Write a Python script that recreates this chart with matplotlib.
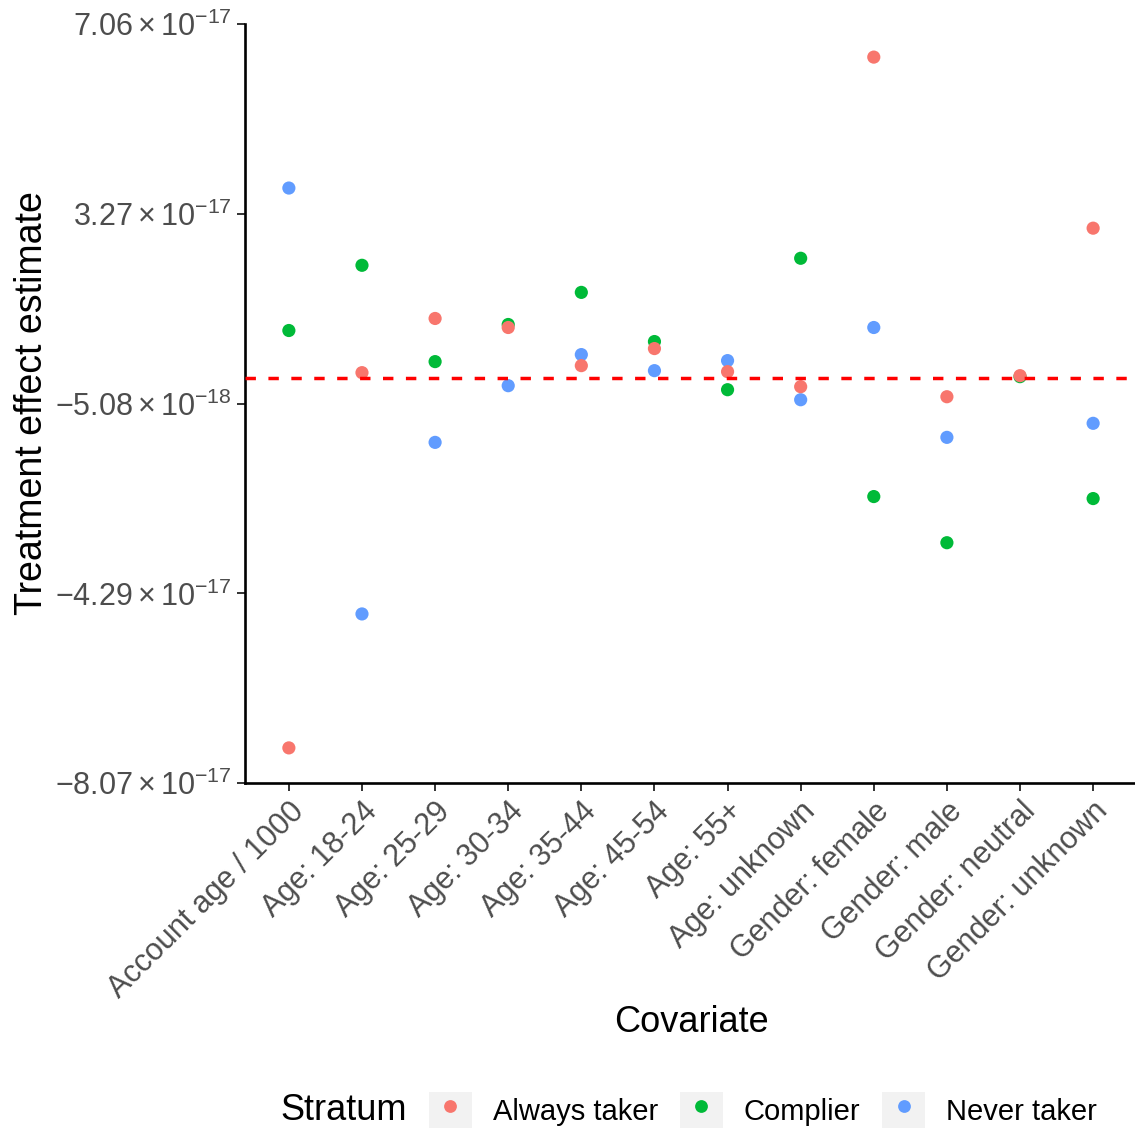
import numpy as np
import matplotlib
matplotlib.use("Agg")
import matplotlib.pyplot as plt
from matplotlib.lines import Line2D
from matplotlib.patches import Rectangle

plt.rcParams['font.family'] = ['Liberation Sans', 'DejaVu Sans']
plt.rcParams['mathtext.fontset'] = 'custom'
plt.rcParams['mathtext.rm'] = 'Liberation Sans'
plt.rcParams['mathtext.it'] = 'Liberation Sans:italic'
plt.rcParams['mathtext.bf'] = 'Liberation Sans:bold'

covariates = ['Account age / 1000', 'Age: 18-24', 'Age: 25-29', 'Age: 30-34',
              'Age: 35-44', 'Age: 45-54', 'Age: 55+', 'Age: unknown',
              'Gender: female', 'Gender: male', 'Gender: neutral', 'Gender: unknown']

# estimates in units of 1e-17
always_taker = [-7.37, 0.11, 1.19, 1.01, 0.25, 0.59, 0.13, -0.17, 6.40, -0.37, 0.05, 2.99]
complier     = [0.95, 2.25, 0.33, 1.07, 1.71, 0.73, -0.23, 2.39, -2.36, -3.28, 0.03, -2.40]
never_taker  = [3.79, -4.70, -1.28, -0.15, 0.47, 0.15, 0.35, -0.43, 1.01, -1.18, None, -0.90]

ytick_vals = [7.06e-17, 3.27e-17, -5.08e-18, -4.29e-17, -8.07e-17]
ytick_text = [r'$7.06\times10^{-17}$', r'$3.27\times10^{-17}$', r'$-5.08\times10^{-18}$',
              r'$-4.29\times10^{-17}$', r'$-8.07\times10^{-17}$']

strata = ['Always taker', 'Complier', 'Never taker']
colors = {'Always taker': '#F8766D', 'Complier': '#00BA38', 'Never taker': '#619CFF'}

fig = plt.figure(figsize=(11.35, 11.3), dpi=100)
ax = fig.add_axes([245/1135, 1 - 783/1130, 892/1135, 759/1130])

x = np.arange(1, len(covariates) + 1)
series = {'Always taker': always_taker, 'Complier': complier, 'Never taker': never_taker}
for name in ['Complier', 'Never taker', 'Always taker']:
    vals = series[name]
    xs = [xi for xi, v in zip(x, vals) if v is not None]
    ys = [v * 1e-17 for v in vals if v is not None]
    ax.scatter(xs, ys, s=90, color=colors[name], edgecolors='none', zorder=3)

ax.axhline(0, color='#FF0000', lw=2.5, dashes=(3.0, 3.6), zorder=4)

ax.set_xlim(0.4, len(covariates) + 0.6)
ax.set_ylim(ytick_vals[-1], ytick_vals[0])
ax.set_yticks(ytick_vals)
ax.set_yticklabels(ytick_text)
ax.set_xticks(x)
ax.set_xticklabels(covariates, rotation=45, ha='right', va='top', rotation_mode='anchor')

for s in ['top', 'right']:
    ax.spines[s].set_visible(False)
for s in ['left', 'bottom']:
    ax.spines[s].set_linewidth(1.9)
    ax.spines[s].set_color('black')
ax.tick_params(axis='both', length=5.5, width=1.4, color='#333333',
               labelsize=22, labelcolor='#4D4D4D', pad=4)

ax.set_xlabel('Covariate', fontsize=26, color='black')
ax.set_ylabel('Treatment effect estimate', fontsize=27, color='black')
ax.xaxis.set_label_coords(0.5, -0.292)
ax.yaxis.set_label_coords(-0.219, 0.5)

# legend at the bottom
handles = []
for name in strata:
    box = Rectangle((0, 0), 1, 1, facecolor='#F2F2F2', edgecolor='none')
    dot = Line2D([], [], marker='o', ls='', markersize=9.2, color=colors[name], markeredgewidth=0)
    handles.append((box, dot))
leg = fig.legend(handles, strata, loc='center left', bbox_to_anchor=(429/1135, 20/1130),
                 ncol=3, frameon=False, fontsize=21, handlelength=1.47, handleheight=1.5,
                 handletextpad=0.72, columnspacing=0.75, borderpad=0, borderaxespad=0)
fig.text(280/1135, 19/1130, 'Stratum', fontsize=26, ha='left', va='center')

fig.savefig('out.png', dpi=100)
